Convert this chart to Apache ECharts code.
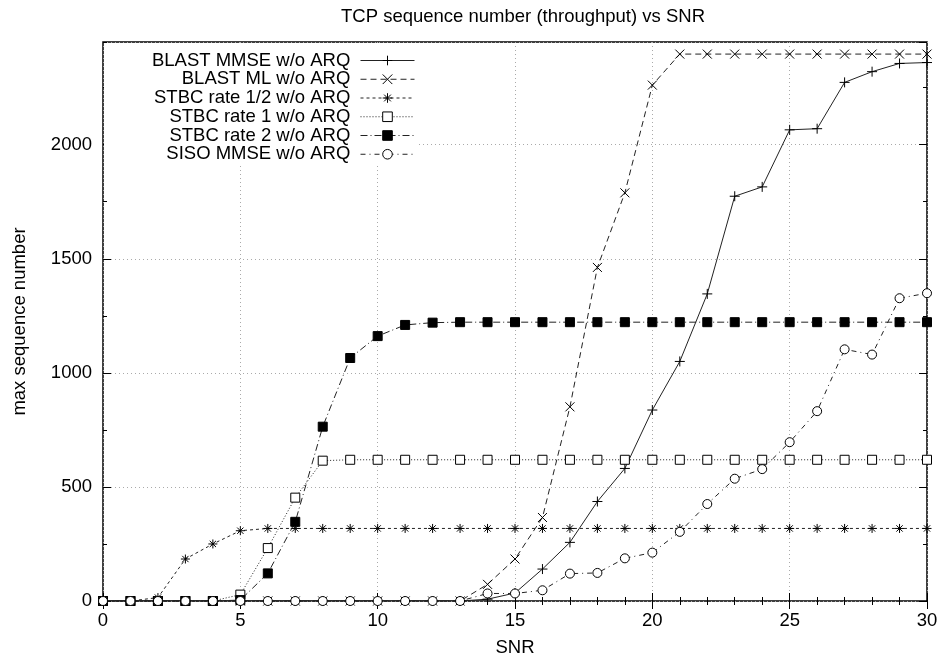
<!DOCTYPE html>
<html><head><meta charset="utf-8">
<script src="https://cdn.jsdelivr.net/npm/echarts@6/dist/echarts.min.js"></script>
<style>html,body{margin:0;padding:0;background:#fff}#c{width:942px;height:662px}</style>
</head><body><div id="c"></div>
<script>
const snr = [0,1,2,3,4,5,6,7,8,9,10,11,12,13,14,15,16,17,18,19,20,21,22,23,24,25,26,27,28,29,30];
const blastMmse = [0,0,0,0,0,0,0,0,0,0,0,0,0,0,8,35,140,257,436,581,837,1050,1346,1774,1815,2065,2070,2273,2320,2356,2360];
const blastMl = [0,0,0,0,0,0,0,0,0,0,0,0,0,0,73,184,366,851,1462,1789,2261,2397,2397,2397,2397,2397,2397,2397,2397,2397,2397];
const stbcHalf = [0,0,15,184,250,308,318,318,318,318,318,318,318,318,318,318,318,318,318,318,318,318,318,318,318,318,318,318,318,318,318];
const stbcOne = [0,0,0,0,0,28,232,453,615,619,619,619,619,619,619,619,619,619,619,619,619,619,619,619,619,619,619,619,619,619,619];
const stbcTwo = [0,0,0,0,0,4,121,347,764,1065,1161,1210,1220,1222,1222,1222,1222,1222,1222,1222,1222,1222,1222,1222,1222,1222,1222,1222,1222,1222,1222];
const sisoMmse = [0,0,0,0,0,0,0,0,0,0,0,0,0,0,33,33,47,120,123,187,212,303,425,536,578,696,832,1103,1080,1327,1349];
const seriesNames = ['BLAST MMSE w/o ARQ','BLAST ML w/o ARQ','STBC rate 1/2 w/o ARQ','STBC rate 1 w/o ARQ','STBC rate 2 w/o ARQ','SISO MMSE w/o ARQ'];
const xTickLabels = [0,5,10,15,20,25,30];
const yTickLabels = [0,500,1000,1500,2000];

const FONT = '"Liberation Sans", Helvetica, Arial, sans-serif';
const FS = 18.5;
const values = [blastMmse, blastMl, stbcHalf, stbcOne, stbcTwo, sisoMmse];
const styles = [
  {symbol:'path://M5,0L5,10M0,5L10,5', size:10, fill:'#000', dash:'solid'},
  {symbol:'path://M0,0L10,10M10,0L0,10', size:9, fill:'#000', dash:[6,4]},
  {symbol:'path://M5,0L5,10M0,5L10,5M1.5,1.5L8.5,8.5M8.5,1.5L1.5,8.5', size:9, fill:'#000', dash:[3,3]},
  {symbol:'rect', size:9, fill:'#fff', dash:[1,2]},
  {symbol:'rect', size:9, fill:'#000', dash:[7,3,1,3]},
  {symbol:'circle', size:9, fill:'#fff', dash:[5,4,1,4]}
];

const series = seriesNames.map((n,i)=>({
  name:n, type:'line', data: snr.map((x,j)=>[x, values[i][j]]),
  symbol: styles[i].symbol, symbolSize: styles[i].size,
  itemStyle:{color: styles[i].fill, borderColor:'#000', borderWidth:1},
  lineStyle:{color:'#222', width:1, type: styles[i].dash},
  emphasis:{disabled:true}, z: 2+i
}));

const legends = seriesNames.map((n,i)=>({
  data:[n], orient:'vertical', right:527, top: 60.5 + 18.75*i - 9.5,
  align:'right', itemWidth:54, itemHeight:12, padding:0, selectedMode:false,
  formatter: name => name + ' ',
  lineStyle:{width:1, color:'#222', type: styles[i].dash},
  itemStyle:{borderWidth:1, borderColor:'#000', color: styles[i].fill},
  textStyle:{fontSize:FS, color:'#000', fontFamily:FONT, lineHeight:19}
}));

const tickCommon = {inside:true, lineStyle:{color:'#000', width:1}};
const yFmt = v => (yTickLabels.indexOf(v) >= 0 ? String(v) : '');
const xFmt = v => (xTickLabels.indexOf(v) >= 0 ? String(v) : '');

const option = {
  animation:false,
  backgroundColor:'#fff',
  title:{text:'TCP sequence number (throughput) vs SNR', left:518, textAlign:'center', top:2,
    textStyle:{fontSize:FS, fontWeight:'normal', color:'#000', fontFamily:FONT}},
  grid:{left:103, right:15, top:42, bottom:58.5, show:true, borderColor:'#000', borderWidth:1.5, backgroundColor:'transparent'},
  legend: legends,
  graphic:[{type:'rect', shape:{x:104, y:43, width:314, height:120}, style:{fill:'#fff'}, z:1, silent:true}],
  xAxis:[
    {type:'value', min:0, max:30, interval:5, position:'bottom',
     axisLine:{show:false}, axisTick:Object.assign({length:8}, tickCommon),
     minorTick:{show:true, splitNumber:5, length:4, lineStyle:{color:'#000', width:1}},
     axisLabel:{fontSize:FS, color:'#000', fontFamily:FONT, margin:10, formatter:xFmt},
     splitLine:{show:true, lineStyle:{color:'#aaa', width:1, type:[1,3]}},
     name:'SNR', nameLocation:'middle', nameGap:37,
     nameTextStyle:{fontSize:FS, color:'#000', fontFamily:FONT}},
    {type:'value', min:0, max:30, interval:5, position:'top',
     axisLine:{show:false}, axisTick:Object.assign({length:8}, tickCommon),
     minorTick:{show:true, splitNumber:5, length:4, lineStyle:{color:'#000', width:1}},
     axisLabel:{show:false}, splitLine:{show:false}}
  ],
  yAxis:[
    {type:'value', min:0, max:2450, interval:500, position:'left',
     axisLine:{show:false}, axisTick:Object.assign({length:8}, tickCommon),
     axisLabel:{fontSize:FS, color:'#000', fontFamily:FONT, margin:11, formatter:yFmt, showMaxLabel:false},
     splitLine:{show:true, lineStyle:{color:'#aaa', width:1, type:[1,3]}},
     name:'max sequence number', nameLocation:'middle', nameGap:74,
     nameTextStyle:{fontSize:FS, color:'#000', fontFamily:FONT}},
    {type:'value', min:0, max:2450, interval:250, position:'left',
     axisLine:{show:false}, axisTick:Object.assign({length:4}, tickCommon),
     axisLabel:{show:false}, splitLine:{show:false}},
    {type:'value', min:0, max:2450, interval:500, position:'right',
     axisLine:{show:false}, axisTick:Object.assign({length:8}, tickCommon),
     axisLabel:{show:false}, splitLine:{show:false}},
    {type:'value', min:0, max:2450, interval:250, position:'right',
     axisLine:{show:false}, axisTick:Object.assign({length:4}, tickCommon),
     axisLabel:{show:false}, splitLine:{show:false}}
  ],
  series: series
};
const chart = echarts.init(document.getElementById('c'), null, {renderer:'canvas'});
chart.setOption(option);
</script>
</body></html>
